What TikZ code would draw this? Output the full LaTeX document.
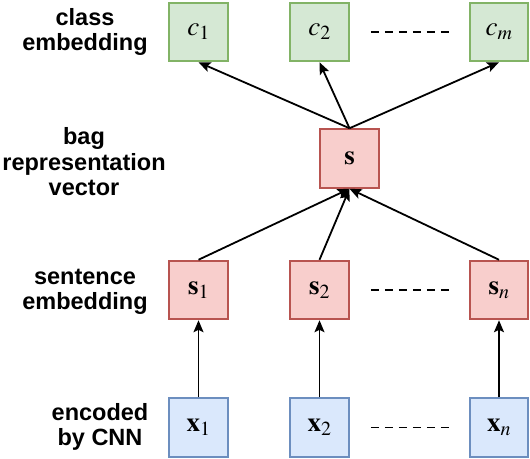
\documentclass[tikz,border=0pt]{standalone}
\usepackage{mathptmx}
\usepackage[no-math]{fontspec}
\setmainfont{Liberation Sans}
\usetikzlibrary{arrows.meta,positioning}
\definecolor{grfill}{HTML}{D5E8D4}
\definecolor{grline}{HTML}{82B366}
\definecolor{rdfill}{HTML}{F8CECC}
\definecolor{rdline}{HTML}{B85450}
\definecolor{blfill}{HTML}{DAE8FC}
\definecolor{blline}{HTML}{6C8EBF}
\tikzstyle{cellbox} = [rectangle,minimum size=58.5pt,inner sep=0pt,
  line width=2pt,font=\fontsize{27}{32}\selectfont]
\tikzstyle{clsbox} = [cellbox,draw=grline,fill=grfill]
\tikzstyle{sentbox} = [cellbox,draw=rdline,fill=rdfill]
\tikzstyle{encbox} = [cellbox,draw=blline,fill=blfill]
\tikzstyle{rowlabel} = [align=center,inner sep=0pt,
  font=\bfseries\fontsize{23.5}{25.5}\selectfont]
\tikzstyle{feed} = [-{Stealth[length=12pt,width=10pt,inset=2.5pt]},line width=1.8pt]
\tikzstyle{gap} = [dash pattern=on 8pt off 6pt,line width=1.8pt,
  shorten <=21pt,shorten >=19pt]

\begin{document}
\begin{tikzpicture}[x=1pt,y=-1pt]
    \useasboundingbox (0,0) rectangle (530,458);
    % class embeddings
    \node [clsbox] (c1) at (198.5,32) {$c_1$};
    \node [clsbox] (c2) at (319.5,32) {$c_2$};
    \node [clsbox] (cm) at (499,32) {$c_m$};
    % bag vector
    \node [sentbox] (s) at (349.5,158.5) {$\mathbf{s}$};
    % sentences
    \node [sentbox] (s1) at (198.5,290) {$\mathbf{s}_1$};
    \node [sentbox] (s2) at (319.5,290) {$\mathbf{s}_2$};
    \node [sentbox] (sn) at (499,290) {$\mathbf{s}_n$};
    \node [encbox] (x1) at (198.5,427.5) {$\mathbf{x}_1$};
    \node [encbox] (x2) at (319.5,427.5) {$\mathbf{x}_2$};
    \node [encbox] (xn) at (499,427.5) {$\mathbf{x}_n$};
    % row labels
    \node [rowlabel] (lclass) at (85,32) {class\\embedding};
    \node [rowlabel] (lbag) at (84,162) {bag\\representation\\vector};
    \node [rowlabel] (lsent) at (85,292) {sentence\\embedding};
    \node [rowlabel] (lenc) at (100,427) {encoded\\by CNN};
    % connections
    \draw [feed] (s.north) -- (c1.south);
    \draw [feed] (s.north) -- (c2.south);
    \draw [feed] (s.north) -- (cm.south);
    \draw [feed] (s1.north) -- (s.south);
    \draw [feed] (s2.north) -- (s.south);
    \draw [feed] (sn.north) -- (s.south);
    \draw [feed] (x1.north) -- (s1.south);
    \draw [feed] (x2.north) -- (s2.south);
    \draw [feed] (xn.north) -- (sn.south);
    \draw [gap] (c2.east) -- (cm.west);
    \draw [gap] (s2.east) -- (sn.west);
    \draw [gap] (x2.east) -- (xn.west);
  \end{tikzpicture}
\end{document}
